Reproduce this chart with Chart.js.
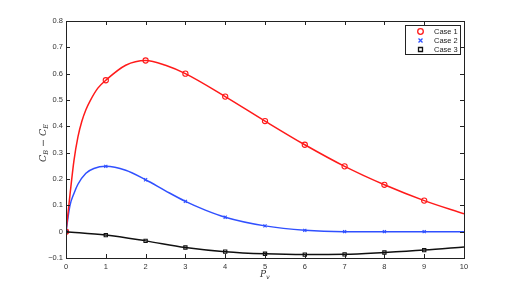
<!DOCTYPE html>
<html>
<head>
<meta charset="utf-8">
<script src="https://cdn.jsdelivr.net/npm/chart.js@4.4.1/dist/chart.umd.min.js"></script>
<style>
  html, body { margin: 0; padding: 0; background: #fff; }
  #wrap { width: 512px; height: 291px; }
</style>
</head>
<body>
<div id="wrap"><canvas id="c" width="512" height="291"></canvas></div>
<script>
  // curve samples
  const case1X = [0, 0.1, 0.2, 0.3, 0.4, 0.5, 0.6, 0.8, 1, 1.5, 2, 2.5, 3, 4, 5, 6, 7, 8, 9, 10];
  const case1Y = [0, 0.14, 0.27, 0.36, 0.42, 0.463, 0.495, 0.545, 0.575, 0.632, 0.65, 0.632, 0.60, 0.513, 0.42, 0.33, 0.248, 0.178, 0.118, 0.068];
  const case2X = [0, 0.1, 0.2, 0.3, 0.5, 0.7, 1, 1.5, 2, 2.5, 3, 3.5, 4, 5, 6, 7, 8, 9, 10];
  const case2Y = [0, 0.1, 0.145, 0.18, 0.222, 0.24, 0.248, 0.233, 0.197, 0.155, 0.115, 0.082, 0.055, 0.022, 0.005, 0, 0, 0, 0];
  const case3X = [0, 1, 2, 3, 4, 5, 6, 7, 8, 9, 10];
  const case3Y = [0, -0.013, -0.035, -0.06, -0.076, -0.084, -0.087, -0.086, -0.079, -0.07, -0.058];

  // marker positions
  const markX = [0, 1, 2, 3, 4, 5, 6, 7, 8, 9];
  const case1Marks = [0, 0.575, 0.65, 0.60, 0.513, 0.42, 0.33, 0.248, 0.178, 0.118];
  const case2Marks = [0, 0.248, 0.197, 0.115, 0.055, 0.022, 0.005, 0, 0, 0];
  const case3Marks = [0, -0.013, -0.035, -0.06, -0.076, -0.084, -0.087, -0.086, -0.079, -0.07];

  const xTicks = [0, 1, 2, 3, 4, 5, 6, 7, 8, 9, 10];
  const yTicks = [-0.1, 0, 0.1, 0.2, 0.3, 0.4, 0.5, 0.6, 0.7, 0.8];
  const seriesNames = ["Case 1", "Case 2", "Case 3"];

  const RED = "#ff1a1a", BLUE = "#3050ff", BLACK = "#111";
  const FONT = "'Liberation Sans', Arial, sans-serif";

  function pts(xs, ys) { return xs.map(function(x, i) { return { x: x, y: ys[i] }; }); }

  function lineSet(xs, ys, color) {
    return {
      data: pts(xs, ys), borderColor: color, borderWidth: 1.5, pointRadius: 0,
      showLine: true, cubicInterpolationMode: "monotone", fill: false, isLine: true
    };
  }
  function markSet(label, ys, color, style, r) {
    return {
      label: label, data: pts(markX, ys), showLine: false, borderColor: color,
      backgroundColor: "rgba(0,0,0,0)", pointStyle: style, pointRadius: r,
      pointBorderWidth: 1.1
    };
  }

  const frame = {
    id: "frame",
    afterDraw: function(chart) {
      const ctx = chart.ctx, a = chart.chartArea;
      const xs = chart.scales.x, ys = chart.scales.y;
      ctx.save();
      ctx.strokeStyle = "#222";
      ctx.lineWidth = 1;
      ctx.strokeRect(Math.round(a.left) + 0.5, Math.round(a.top) + 0.5,
        Math.round(a.right - a.left), Math.round(a.bottom - a.top));
      ctx.beginPath();
      xTicks.forEach(function(v) {
        const p = Math.round(xs.getPixelForValue(v)) + 0.5;
        ctx.moveTo(p, a.bottom); ctx.lineTo(p, a.bottom - 4);
        ctx.moveTo(p, a.top); ctx.lineTo(p, a.top + 4);
      });
      yTicks.forEach(function(v) {
        const p = Math.round(ys.getPixelForValue(v)) + 0.5;
        ctx.moveTo(a.left, p); ctx.lineTo(a.left + 4, p);
        ctx.moveTo(a.right, p); ctx.lineTo(a.right - 4, p);
      });
      ctx.stroke();

      // axis titles
      ctx.fillStyle = "#333";
      ctx.font = "italic 9px 'DejaVu Serif', serif";
      ctx.textBaseline = "alphabetic";
      ctx.fillText("P", 260, 277);
      ctx.font = "italic 6.5px 'DejaVu Serif', serif";
      ctx.fillText("v", 266, 279);

      ctx.translate(46, 140);
      ctx.rotate(-Math.PI / 2);
      ctx.textAlign = "left";
      let x = -22;
      function put(t, f, dy) { ctx.font = f; ctx.fillText(t, x, dy); x += ctx.measureText(t).width; }
      put("C", "italic 9.5px 'DejaVu Serif', serif", 0);
      put("B", "italic 6.5px 'DejaVu Serif', serif", 2);
      put(" \u2212 ", "9.5px 'DejaVu Serif', serif", 0);
      put("C", "italic 9.5px 'DejaVu Serif', serif", 0);
      put("E", "italic 6.5px 'DejaVu Serif', serif", 2);
      ctx.restore();

      // legend box
      ctx.save();
      const bx = 405.5, by = 25.5, bw = 55, bh = 29;
      ctx.fillStyle = "#fff";
      ctx.fillRect(bx, by, bw, bh);
      ctx.strokeStyle = "#222";
      ctx.lineWidth = 1;
      ctx.strokeRect(bx, by, bw, bh);
      const mk = chart.data.datasets.filter(function(d) { return !d.isLine; });
      mk.forEach(function(d, i) {
        const y = by + 6 + i * 9;
        ctx.strokeStyle = d.borderColor;
        ctx.lineWidth = 1.3;
        ctx.beginPath();
        if (d.pointStyle === "circle") ctx.arc(420.5, y, 2.8, 0, Math.PI * 2);
        else if (d.pointStyle === "crossRot") { ctx.moveTo(418.5, y - 2); ctx.lineTo(422.5, y + 2); ctx.moveTo(422.5, y - 2); ctx.lineTo(418.5, y + 2); }
        else ctx.rect(418.5, y - 2, 4, 4);
        ctx.stroke();
        ctx.fillStyle = "#222";
        ctx.font = "7.5px " + FONT;
        ctx.textBaseline = "middle";
        ctx.fillText(seriesNames[i], 434, y + 0.5);
      });
      ctx.restore();
    }
  };

  new Chart(document.getElementById("c"), {
    type: "scatter",
    data: {
      datasets: [
        lineSet(case1X, case1Y, RED),
        lineSet(case2X, case2Y, BLUE),
        lineSet(case3X, case3Y, BLACK),
        markSet(seriesNames[0], case1Marks, RED, "circle", 2.6),
        markSet(seriesNames[1], case2Marks, BLUE, "crossRot", 2.2),
        markSet(seriesNames[2], case3Marks, BLACK, "rect", 2.3)
      ]
    },
    options: {
      responsive: false, animation: false, maintainAspectRatio: false,
      layout: { padding: { left: 0, top: 21, right: 48, bottom: 0 } },
      plugins: { legend: { display: false }, tooltip: { enabled: false } },
      scales: {
        x: {
          type: "linear", min: 0, max: 10,
          afterBuildTicks: function(s) { s.ticks = xTicks.map(function(v) { return { value: v }; }); },
          afterFit: function(s) { s.height = 33; },
          grid: { display: false, drawTicks: false },
          border: { display: false },
          ticks: { color: "#333", padding: 4, font: { size: 7.5, family: FONT }, maxRotation: 0 }
        },
        y: {
          type: "linear", min: -0.1, max: 0.8,
          afterBuildTicks: function(s) { s.ticks = yTicks.map(function(v) { return { value: v }; }); },
          afterFit: function(s) { s.width = 66; },
          grid: { display: false, drawTicks: false },
          border: { display: false },
          ticks: {
            color: "#333", padding: 3, font: { size: 7.5, family: FONT },
            callback: function(v) { return v === 0 ? "0" : (v < 0 ? "\u2212" : "") + Math.abs(v).toFixed(1); }
          }
        }
      }
    },
    plugins: [frame]
  });
</script>
</body>
</html>
